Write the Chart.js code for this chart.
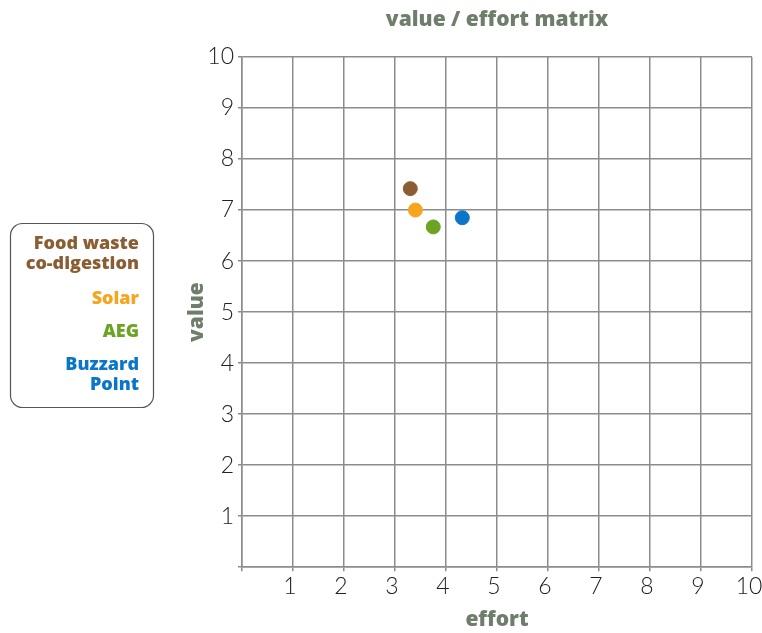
<!DOCTYPE html>
<html>
<head>
<meta charset="utf-8">
<script src="https://cdn.jsdelivr.net/npm/chart.js@4"></script>
<style>
  body { margin: 0; background: #fff; }
  #wrap { width: 762px; height: 633px; }
</style>
</head>
<body>
<div id="wrap"><canvas id="matrix"></canvas></div>
<script>
var projects = [["Food waste", "co-digestion"], ["Solar"], ["AEG"], ["Buzzard", "Point"]];
var colors = ["#8a5d32", "#f6a51f", "#6ba322", "#0b76c8"];
var effort = [3.3, 3.4, 3.75, 4.32];
var value = [7.42, 7.0, 6.67, 6.85];

var titleColor = "#6f7e6b";
var boldFont = "'Open Sans'";

// legend box on the left and the title over the plot, drawn by hand
var sideLegend = {
  id: "sideLegend",
  afterDraw: function (chart) {
    var ctx = chart.ctx;
    var area = chart.chartArea;
    ctx.save();
    ctx.fillStyle = titleColor;
    ctx.font = "800 21px " + boldFont;
    ctx.textAlign = "center";
    ctx.textBaseline = "middle";
    ctx.fillText("value / effort matrix", (area.left + area.right) / 2, 20);

    ctx.strokeStyle = "#555";
    ctx.lineWidth = 1.2;
    ctx.beginPath();
    ctx.roundRect(10.5, 223.5, 143, 184, 12);
    ctx.stroke();
    ctx.font = "800 18px " + boldFont;
    ctx.textAlign = "right";
    var y = 244;
    var gaps = [35, 33, 33];
    chart.data.datasets.forEach(function (ds, i) {
      ds.label.forEach(function (line, j) {
        ctx.fillStyle = ds.backgroundColor;
        ctx.fillText(line, 139, y + j * 20);
      });
      y += (ds.label.length - 1) * 20 + (gaps[i] || 0);
    });
    ctx.restore();
  }
};

var ctx = document.getElementById("matrix");
var datasets = projects.map(function (p, i) {
  return {
    label: p,
    data: [{ x: effort[i], y: value[i] }],
    backgroundColor: colors[i],
    borderColor: colors[i],
    pointRadius: 7,
    pointHoverRadius: 7
  };
});

var tickFont = { family: "Lato", size: 23, weight: 300 };
var axisTitleFont = { family: boldFont, size: 21, weight: 800 };

var myChart = new Chart(ctx, {
  type: "scatter",
  data: { datasets: datasets },
  plugins: [sideLegend],
  options: {
    responsive: true,
    maintainAspectRatio: false,
    animation: false,
    layout: { padding: { left: 160, right: 10, top: 57, bottom: 0 } },
    plugins: {
      legend: { display: false },
      tooltip: { enabled: false },
      title: { display: false }
    },
    scales: {
      x: {
        min: 0,
        max: 10,
        afterFit: function (scale) { scale.paddingRight = 0; scale.paddingLeft = 0; },
        ticks: {
          stepSize: 1,
          color: "#222",
          font: tickFont,
          padding: 2,
          labelOffset: -3,
          maxRotation: 0,
          callback: function (v) { return v === 0 ? "" : v; }
        },
        grid: { color: "#8c8c8c", lineWidth: 1.5, tickLength: 4 },
        border: { color: "#8c8c8c", width: 1.5 },
        title: {
          display: true,
          text: "effort",
          color: titleColor,
          font: axisTitleFont,
          padding: { top: 5, bottom: 0 }
        }
      },
      y: {
        min: 0,
        max: 10,
        afterFit: function (scale) { scale.width = 82; scale.paddingTop = 0; },
        ticks: {
          stepSize: 1,
          color: "#222",
          font: tickFont,
          padding: 4,
          callback: function (v) { return v === 0 ? "" : v; }
        },
        grid: { color: "#8c8c8c", lineWidth: 1.5, tickLength: 4 },
        border: { color: "#8c8c8c", width: 1.5 },
        title: {
          display: true,
          text: "value",
          color: titleColor,
          font: axisTitleFont,
          padding: { top: 24, bottom: 0 }
        }
      }
    }
  }
});
</script>
</body>
</html>
